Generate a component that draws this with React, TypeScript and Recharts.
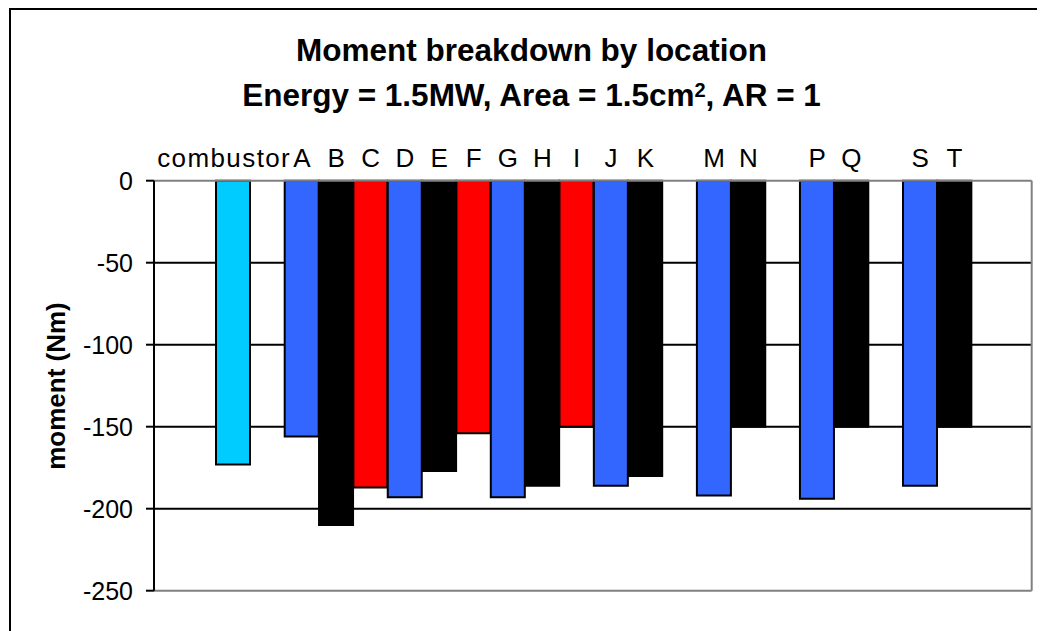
import React from 'react';
import { BarChart, Bar, XAxis, YAxis, CartesianGrid, Cell } from 'recharts';

// Locations along the engine; blank slots are positions with no reading.
const locations = ['combustor', '', 'A', 'B', 'C', 'D', 'E', 'F', 'G', 'H', 'I', 'J', 'K', '', 'M', 'N', '', 'P', 'Q', '', 'S', 'T'];
// Moment at each location (Nm).
const moments: (number | null)[] = [-173, null, -156, -210, -187, -193, -177, -154, -193, -186, -150, -186, -180, null, -192, -150, null, -194, -150, null, -186, -150];
// Group each location belongs to (drives the fill colour).
const groups = ['combustor', '', 'blue', 'black', 'red', 'blue', 'black', 'red', 'blue', 'black', 'red', 'blue', 'black', '', 'blue', 'black', '', 'blue', 'black', '', 'blue', 'black'];
const yTicks = [0, -50, -100, -150, -200, -250];
const gridValues = [-50, -100, -150, -200];
const Y_MIN = -250;
const Y_MAX = 0;

const palette: Record<string, string> = {
  combustor: '#00CCFF',
  blue: '#3366FF',
  black: '#000000',
  red: '#FF0000',
};

const data = locations.map((name, i) => ({ name, moment: moments[i] }));

const FONT = '"Liberation Sans", Arial, sans-serif';
const FRAME = { stroke: '#808080', strokeWidth: 2 };

const LocationTick = (props: any) => {
  const { x, y, payload } = props;
  const label: string = payload?.value ?? '';
  if (!label) return null;
  if (label.length > 1) {
    return (
      <text x={x + 58} y={y} textAnchor="end" fontSize={26} fontFamily={FONT} fill="#000" letterSpacing={1.4}>
        {label}
      </text>
    );
  }
  return (
    <text x={x} y={y} textAnchor="middle" fontSize={26} fontFamily={FONT} fill="#000">
      {label}
    </text>
  );
};

export default function App() {
  return (
    <div style={{ position: 'relative', width: 1037, height: 623, background: '#fff' }}>
      <div
        style={{
          position: 'absolute',
          left: 1,
          top: 0,
          width: 1026,
          height: 640,
          border: '2px solid #000',
          pointerEvents: 'none',
        }}
      />
      <BarChart
        width={1037}
        height={623}
        data={data}
        margin={{ top: 142.7, right: 12.3, bottom: 39.3, left: 66 }}
        barCategoryGap={0}
        barGap={0}
      >
        <CartesianGrid
          horizontal
          vertical={false}
          horizontalValues={gridValues}
          stroke="#000"
          strokeWidth={2}
        />
        <Bar dataKey="moment" isAnimationActive={false} stroke="#000" strokeWidth={2}>
          {data.map((d, i) => (
            <Cell key={i} fill={palette[groups[i]] ?? '#fff'} />
          ))}
        </Bar>
        <XAxis
          dataKey="name"
          orientation="top"
          height={30}
          interval={0}
          tickLine={false}
          tickSize={0}
          tickMargin={14}
          axisLine={FRAME}
          padding={{ left: 62, right: 60 }}
          tick={<LocationTick />}
        />
        {/* bottom and right edges of the plot frame */}
        <XAxis
          xAxisId="frame"
          dataKey="name"
          orientation="bottom"
          height={1}
          tick={false}
          tickLine={false}
          axisLine={FRAME}
        />
        <YAxis
          yAxisId="frame"
          orientation="right"
          domain={[Y_MIN, Y_MAX]}
          width={1}
          tick={false}
          tickLine={false}
          axisLine={FRAME}
        />
        <YAxis
          domain={[Y_MIN, Y_MAX]}
          ticks={yTicks}
          interval={0}
          width={80}
          tickSize={8}
          tickMargin={13}
          tickLine={{ stroke: '#000', strokeWidth: 2 }}
          axisLine={{ stroke: '#000', strokeWidth: 2 }}
          tick={{ fontSize: 25, fontFamily: FONT, fill: '#000' }}
        />
      </BarChart>
      <svg
        width={1037}
        height={623}
        style={{ position: 'absolute', left: 0, top: 0, pointerEvents: 'none' }}
      >
        <text x={523.5} y={53} textAnchor="middle" fontSize={31.5} fontWeight={700} fontFamily={FONT} fill="#000">
          Moment breakdown by location
        </text>
        <text x={523.5} y={98} textAnchor="middle" fontSize={31.5} fontWeight={700} fontFamily={FONT} fill="#000">
          Energy = 1.5MW, Area = 1.5cm
          <tspan fontSize={20} dy={-9}>2</tspan>
          <tspan dy={9}>, AR = 1</tspan>
        </text>
        <text
          x={57}
          y={378}
          transform="rotate(-90 57 378)"
          textAnchor="middle"
          fontSize={26}
          fontWeight={700}
          fontFamily={FONT}
          fill="#000"
        >
          moment (Nm)
        </text>
      </svg>
    </div>
  );
}
